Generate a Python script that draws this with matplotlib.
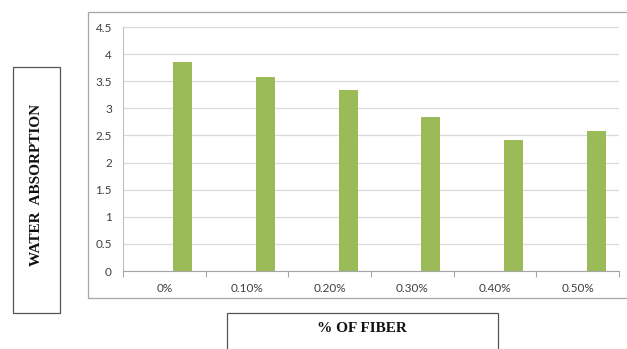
import matplotlib
matplotlib.use("Agg")
import matplotlib.pyplot as plt
from matplotlib.patches import Rectangle
import numpy as np

categories = ["0%", "0.10%", "0.20%", "0.30%", "0.40%", "0.50%"]
water_absorption = [3.86, 3.57, 3.33, 2.84, 2.42, 2.59]
y_ticks = [0, 0.5, 1, 1.5, 2, 2.5, 3, 3.5, 4, 4.5]

W, H = 627, 349
fig = plt.figure(figsize=(W / 100, H / 100), dpi=100)
fig.patch.set_facecolor("white")

# outer chart frame
fig.add_artist(Rectangle((88 / W, 1 - 298 / H), (W + 5 - 88) / W, (298 - 12) / H,
                         transform=fig.transFigure, fill=False,
                         edgecolor="#a6a6a6", linewidth=0.9))

ax = fig.add_axes([123 / W, 1 - 271 / H, (619 - 123) / W, (271 - 27) / H])
x = np.arange(len(categories))
ax.bar(x + 0.225, water_absorption, width=0.23, color="#9bbb59", zorder=3)

ax.set_xlim(-0.5, len(categories) - 0.5)
ax.set_ylim(0, 4.5)
ax.set_yticks(y_ticks)
ax.set_yticklabels([f"{v:g}" for v in y_ticks])
ax.yaxis.grid(True, color="#d9d9d9", linewidth=0.9)
ax.set_axisbelow(True)

ax.set_xticks(x)
ax.set_xticklabels(categories)
ax.set_xticks(np.arange(-0.5, len(categories)), minor=True)
ax.tick_params(axis="x", which="major", length=0, pad=9, labelsize=8.5, labelcolor="#404040")
ax.tick_params(axis="x", which="minor", length=4, color="#a6a6a6", width=0.8)
ax.tick_params(axis="y", length=0, pad=8, labelsize=8.5, labelcolor="#404040")
for lab in ax.get_xticklabels() + ax.get_yticklabels():
    lab.set_family("Lato")

for side in ["top", "right"]:
    ax.spines[side].set_visible(False)
ax.spines["left"].set_color("#bfbfbf")
ax.spines["bottom"].set_color("#a6a6a6")
ax.spines["left"].set_linewidth(0.8)
ax.spines["bottom"].set_linewidth(0.8)

# y-axis title box
fig.add_artist(Rectangle((13 / W, 1 - 313 / H), (60 - 13) / W, (313 - 67) / H,
                         transform=fig.transFigure, fill=False,
                         edgecolor="#555555", linewidth=0.9))
fig.text(36.5 / W, 1 - 185 / H, "WATER  ABSORPTION", rotation=90,
         ha="center", va="center", family="Liberation Serif",
         fontweight="bold", fontsize=11, color="#111111")

# x-axis title box
fig.add_artist(Rectangle((227 / W, 1 - (H + 5) / H), (498 - 227) / W, (H + 5 - 313) / H,
                         transform=fig.transFigure, fill=False,
                         edgecolor="#555555", linewidth=0.9))
fig.text(362 / W, 1 - 328 / H, "% OF FIBER", ha="center", va="center",
         family="Liberation Serif", fontweight="bold", fontsize=11, color="#111111")

fig.savefig("out.png", dpi=100)
